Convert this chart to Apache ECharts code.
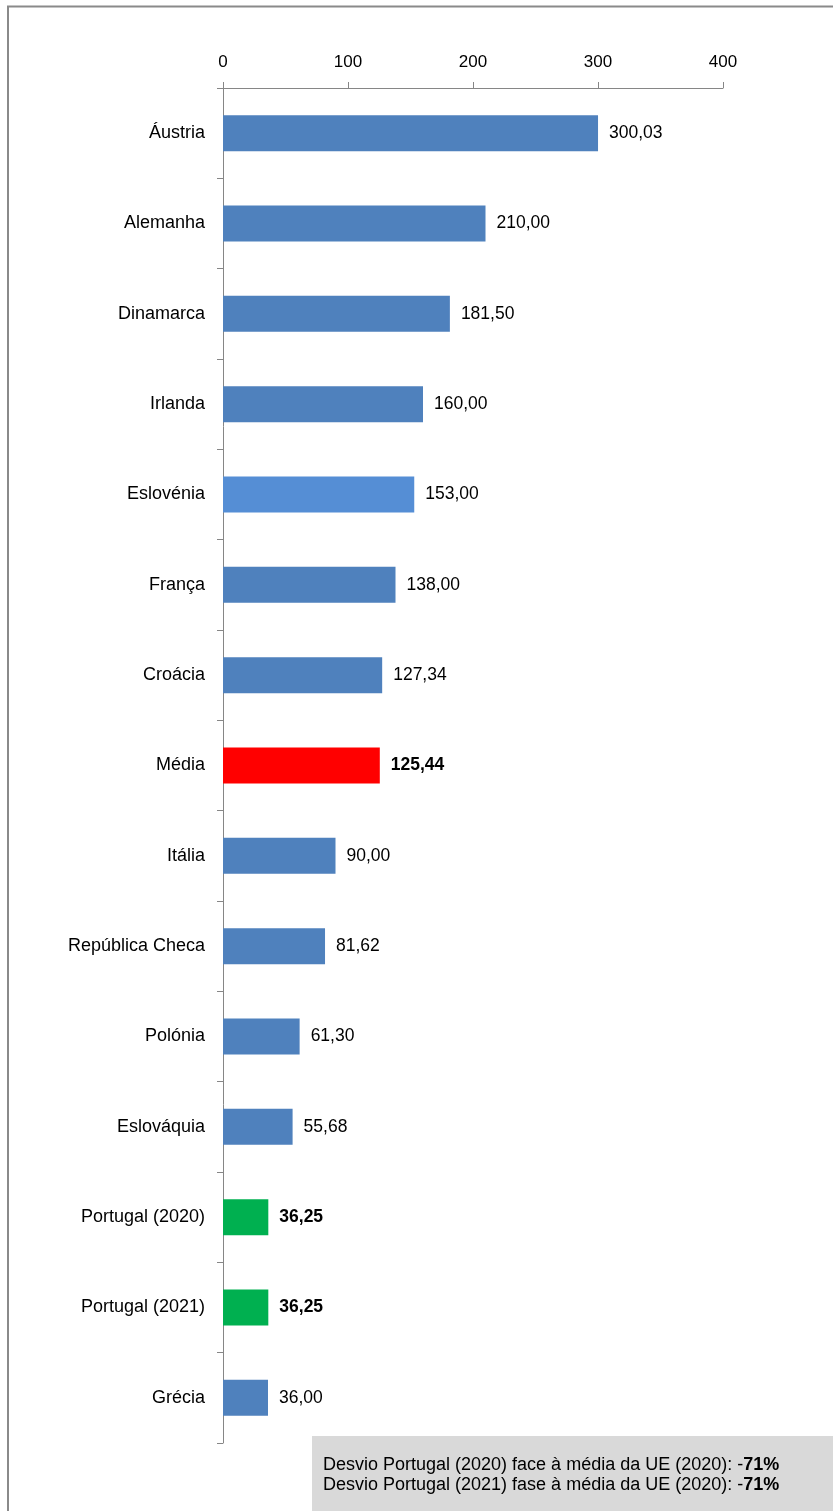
<!DOCTYPE html>
<html>
<head>
<meta charset="utf-8">
<script src="https://cdn.jsdelivr.net/npm/echarts@6/dist/echarts.min.js"></script>
<style>
html,body{margin:0;padding:0;background:#fff;}
#c{width:833px;height:1511px;}
</style>
</head>
<body>
<div id="c"></div>
<script>
const categories = ["Áustria","Alemanha","Dinamarca","Irlanda","Eslovénia","França","Croácia","Média","Itália","República Checa","Polónia","Eslováquia","Portugal (2020)","Portugal (2021)","Grécia"];
const values = [300.03,210.00,181.50,160.00,153.00,138.00,127.34,125.44,90.00,81.62,61.30,55.68,36.25,36.25,36.00];
const barColors = ["#4f81bd","#4f81bd","#4f81bd","#4f81bd","#558ed5","#4f81bd","#4f81bd","#ff0000","#4f81bd","#4f81bd","#4f81bd","#4f81bd","#00b050","#00b050","#4f81bd"];
const boldLabels = ["Média","Portugal (2020)","Portugal (2021)"];
const xTicks = [0,100,200,300,400];
const noteLines = [
  ["Desvio Portugal (2020) face à média da UE (2020): -", "71%"],
  ["Desvio Portugal (2021) fase à média da UE (2020): -", "71%"]
];

const FONT = '"Liberation Sans", Arial, sans-serif';
const chart = echarts.init(document.getElementById('c'), null, {renderer:'canvas'});
const fmt = v => v.toFixed(2).replace('.', ',');

chart.setOption({
  animation:false,
  backgroundColor:'#fff',
  textStyle:{fontFamily:FONT},
  grid:{left:223, right:110, top:88, bottom:68, containLabel:false},
  xAxis:{
    type:'value', position:'top', min:xTicks[0], max:xTicks[xTicks.length-1], interval:100,
    axisLine:{show:true, lineStyle:{color:'#868686', width:1}},
    axisTick:{show:true, inside:false, length:6, lineStyle:{color:'#868686'}},
    axisLabel:{color:'#000', fontSize:17, fontFamily:FONT, margin:17},
    splitLine:{show:false}
  },
  yAxis:{
    type:'category', inverse:true, data:categories,
    axisLine:{show:true, lineStyle:{color:'#868686', width:1}},
    axisTick:{show:true, inside:false, length:6, alignWithLabel:false, lineStyle:{color:'#868686'}},
    axisLabel:{color:'#000', fontSize:18, fontFamily:FONT, margin:18}
  },
  series:[{
    type:'bar',
    barWidth:36,
    data: values.map((v,i)=>({
      value:v,
      itemStyle:{color:barColors[i]},
      label:{fontWeight: boldLabels.includes(categories[i]) ? 'bold' : 'normal'}
    })),
    label:{show:true, position:'right', distance:11, color:'#000', fontSize:17.5, fontFamily:FONT,
      formatter:p=>fmt(p.value)}
  }],
  graphic:[
    {type:'polyline', shape:{points:[[8,1520],[8,6.5],[840,6.5]]}, style:{stroke:'#8a8a8a', lineWidth:2, fill:null}, silent:true},
    {type:'rect', shape:{x:312, y:1436, width:530, height:80}, style:{fill:'#d9d9d9'}},
    {type:'text', x:323, y:1455, style:{
      text: noteLines.map(l=>'{n|'+l[0]+'}{b|'+l[1]+'}').join('\n'),
      rich:{
        n:{fontSize:18, fontFamily:FONT, color:'#000', lineHeight:20},
        b:{fontSize:18, fontFamily:FONT, fontWeight:'bold', color:'#000', lineHeight:20}
      }
    }}
  ]
});
</script>
</body>
</html>
